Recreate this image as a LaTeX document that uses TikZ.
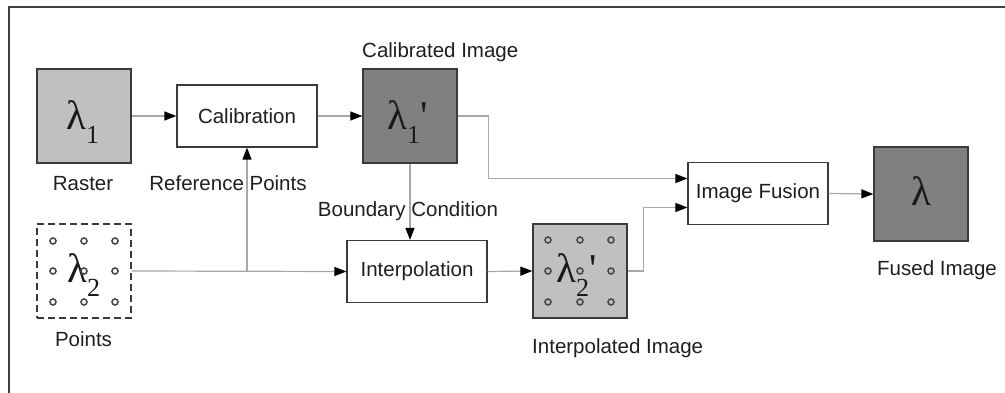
\documentclass[tikz,border=0pt]{standalone}
\usepackage{fontspec}
\setmainfont{Liberation Sans}
\newfontfamily\greekserif{Liberation Serif}
\usetikzlibrary{arrows.meta}
\definecolor{framegray}{HTML}{404040}
\definecolor{boxedge}{HTML}{3A3A3A}
\definecolor{wiregray}{HTML}{A8A8A8}
\definecolor{lightfill}{HTML}{C0C0C0}
\definecolor{darkfill}{HTML}{808080}
\definecolor{dotgray}{HTML}{4A4A4A}
\newcommand{\subnum}[1]{\raisebox{-13.5pt}{\fontsize{26}{26}\selectfont #1}}

\begin{document}
\begin{tikzpicture}[x=1pt,y=-1pt,
  imgbox/.style={draw=boxedge, line width=1.3pt, minimum width=94pt, minimum height=94pt, inner sep=0pt},
  procbox/.style={draw=boxedge, line width=1.2pt, fill=white, minimum width=140pt, minimum height=62pt,
                  inner sep=0pt, font=\fontsize{20.5}{24}\selectfont, text=black!88},
  lbl/.style={inner sep=0pt, font=\fontsize{20.5}{24}\selectfont, text=black!88},
  wire/.style={draw=wiregray, line width=1.2pt},
  flow/.style={wire, -{Triangle[length=12pt,width=9pt,color=black]}},
  lam/.style={inner sep=0pt, anchor=base west, text=black!90, font=\greekserif\fontsize{41}{41}\selectfont},
  dot/.style={draw=dotgray, line width=1.6pt, fill=none}
]
\useasboundingbox (0,0) rectangle (1005,393);

% outer frame
\draw[framegray, line width=2pt] (9,393) -- (9,7) -- (1005,7);

% image boxes
\node[imgbox, fill=lightfill] (raster) at (84,116) {};
\node[imgbox, fill=darkfill] (cal1) at (410,116) {};
\node[imgbox, dashed, dash pattern=on 7pt off 4pt, fill=white] (points) at (84,271) {};
\node[imgbox, fill=lightfill] (interp2) at (580,271) {};
\node[imgbox, fill=darkfill] (fused) at (921,194) {};

% processing boxes
\node[procbox] (calib) at (247,116) {Calibration};
\node[procbox] (interp) at (417,271.5) {Interpolation};
\node[procbox] (fusion) at (758,193.5) {Image Fusion};

% symbols inside the image boxes
\node[lam] (sym1) at (66,130) {λ\subnum{1}};
\node[lam] (sym1p) at (387,130) {λ\subnum{1}'};
\node[lam] (sym2) at (67,283) {λ\subnum{2}};
\node[lam] (sym2p) at (556,283) {λ\subnum{2}'};
\node[lam] (sym) at (911,206) {λ};

% sample points
\foreach \cx in {53,84,115} \foreach \cy in {241,271,302}
  \draw[dot] (\cx,\cy) circle (3pt);
\foreach \cx in {548,580,611} \foreach \cy in {240,271,302}
  \draw[dot] (\cx,\cy) circle (3pt);

% labels
\node[lbl, anchor=base] (lraster) at (83,191) {Raster};
\node[lbl, anchor=base] (lref) at (228,191) {Reference Points};
\node[lbl, anchor=base west] (lcal) at (362,58) {Calibrated Image};
\node[lbl, anchor=base] (lbound) at (408,217) {Boundary Condition};
\node[lbl, anchor=base] (lpoints) at (83.5,346) {Points};
\node[lbl, anchor=base west] (linterp) at (532,353) {Interpolated Image};
\node[lbl, anchor=base west] (lfused) at (877,275) {Fused Image};

% connectors
\coordinate (split) at (247,271);
\draw[flow] (raster.east) -- (calib.west);
\draw[flow] (calib.east) -- (cal1.west);
\draw[flow] (cal1.east) -- ++(31,0) |- ([yshift=15pt]fusion.west);
\draw[flow] (cal1.south) -- (cal1.south |- interp.north);
\draw[flow] (points.east) -- (interp.west);
\draw[flow] (split) -- (calib.south);
\draw[flow] (interp.east) -- (interp2.west);
\draw[flow] (interp2.east) -- ++(16,0) |- ([yshift=-14pt]fusion.west);
\draw[flow] (fusion.east) -- (fused.west);
\end{tikzpicture}
\end{document}
